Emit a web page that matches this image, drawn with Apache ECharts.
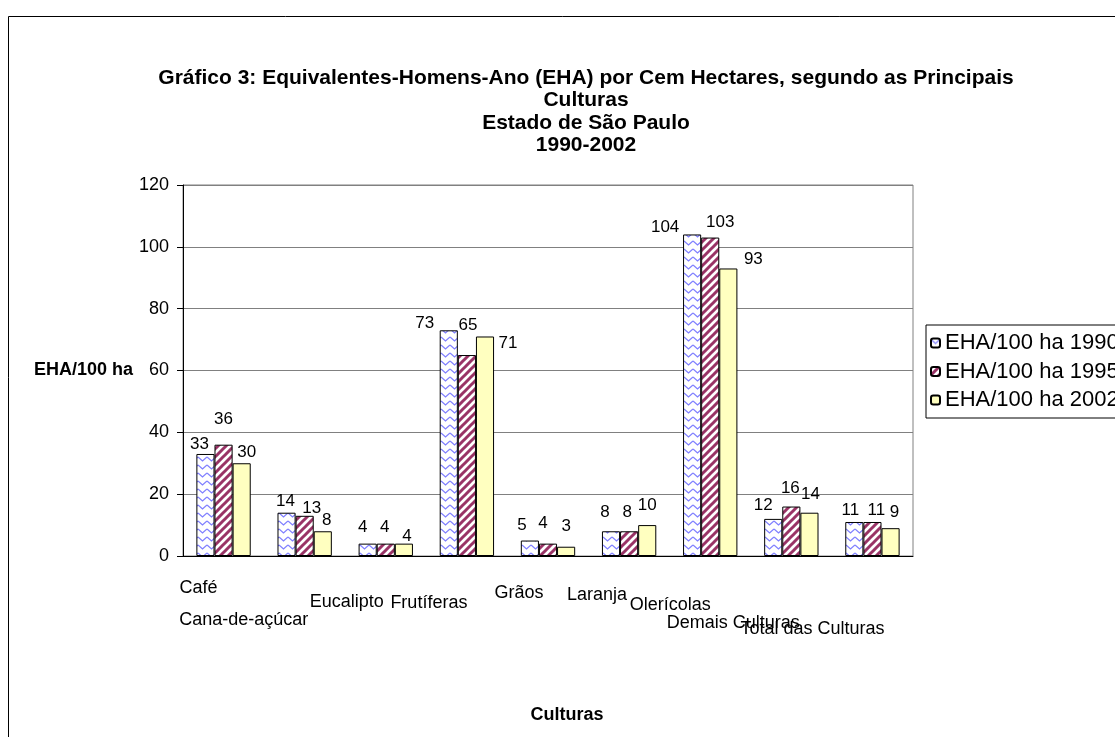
<!DOCTYPE html>
<html>
<head>
<meta charset="utf-8">
<script src="https://cdn.jsdelivr.net/npm/echarts@6/dist/echarts.min.js"></script>
<style>
  html, body { margin: 0; padding: 0; background: #fff; }
  #chart { width: 1115px; height: 737px; }
</style>
</head>
<body>
<div id="chart"></div>
<script>
const categories = ['Café', 'Cana-de-açúcar', 'Eucalipto', 'Frutíferas', 'Grãos', 'Laranja', 'Olerícolas', 'Demais Culturas', 'Total das Culturas']
const seriesNames = ['EHA/100 ha 1990', 'EHA/100 ha 1995', 'EHA/100 ha 2002']
const eha1990 = [33, 14, 4, 73, 5, 8, 104, 12, 11]
const eha1995 = [36, 13, 4, 65, 4, 8, 103, 16, 11]
const eha2002 = [30, 8, 4, 71, 3, 10, 93, 14, 9]
const yTicks = [0, 20, 40, 60, 80, 100, 120]

// the category labels sit staggered under the axis, as in the excel original: [dx, dy]
const labelShift = [[-25, 32], [-61, 64], [-39, 46], [-38, 47], [-29, 37], [-32, 39], [-40, 49], [-58, 67], [-60, 73]]
// value labels are nudged around the bar tops the same way: [dx from bar centre, height above bar top]
const labelNudge = [
  [[-6, 10], [-1, 11], [-5, 16], [-24, 7], [-8, 15], [-6, 19], [-27, 7], [-10, 14], [-4, 12]],
  [[0, 25], [7, 7], [-1, 16], [1, 30], [-5, 20], [-2, 19], [10, 15], [-1, 18], [4, 12]],
  [[5, 11], [4, 11], [3, 7], [23, -7], [0, 20], [0, 20], [25, 9], [1, 18], [4, 16]],
]

const font = '"Liberation Sans", Arial, sans-serif'

function wavePattern() {
  const c = document.createElement('canvas')
  c.width = 9
  c.height = 8
  const g = c.getContext('2d')
  g.fillStyle = '#fff'
  g.fillRect(0, 0, 9, 8)
  g.strokeStyle = '#7f7fff'
  g.lineWidth = 1.3
  g.beginPath()
  g.moveTo(0, 1)
  g.lineTo(4.5, 5)
  g.lineTo(9, 1)
  g.stroke()
  return c
}

function stripePattern() {
  const c = document.createElement('canvas')
  c.width = 8
  c.height = 8
  const g = c.getContext('2d')
  g.fillStyle = '#fff'
  g.fillRect(0, 0, 8, 8)
  g.strokeStyle = '#993366'
  g.lineWidth = 3
  g.beginPath()
  g.moveTo(-2, 10); g.lineTo(10, -2)
  g.moveTo(-2, 2); g.lineTo(2, -2)
  g.moveTo(6, 10); g.lineTo(10, 6)
  g.stroke()
  return c
}

const fills = [
  { image: wavePattern(), repeat: 'repeat' },
  { image: stripePattern(), repeat: 'repeat' },
  '#ffffc0',
]

const rich = {}
labelShift.forEach(([dx, dy], i) => {
  rich['c' + i] = {
    fontSize: 18, lineHeight: 18, color: '#000', fontFamily: font,
    padding: [2 * (dy - 9), dx < 0 ? -2 * dx : 0, 0, dx > 0 ? 2 * dx : 0],
  }
})

const chart = echarts.init(document.getElementById('chart'))

chart.setOption({
  animation: false,
  backgroundColor: '#fff',
  textStyle: { fontFamily: font },
  title: {
    text: 'Gráfico 3: Equivalentes-Homens-Ano (EHA) por Cem Hectares, segundo as Principais\nCulturas\nEstado de São Paulo\n1990-2002',
    left: 586,
    top: 67,
    padding: 0,
    textAlign: 'center',
    textStyle: { fontSize: 21, fontWeight: 'bold', color: '#000', lineHeight: 22.3, fontFamily: font },
  },
  graphic: [
    {
      type: 'rect',
      silent: true,
      shape: { x: 8.5, y: 16.5, width: 1300, height: 900 },
      style: { fill: 'none', stroke: '#000', lineWidth: 1 },
    },
  ],
  legend: {
    orient: 'vertical',
    left: 926,
    top: 325,
    padding: [6, 40, 6, 4],
    itemWidth: 9,
    itemHeight: 9,
    itemGap: 4.5,
    borderColor: '#000',
    borderWidth: 1,
    textStyle: { fontSize: 22, lineHeight: 24, color: '#000', fontFamily: font },
    data: seriesNames,
  },
  grid: {
    left: 183, right: 202, top: 185, bottom: 181,
    containLabel: false, outerBoundsMode: 'none',
    show: true, borderColor: '#808080', borderWidth: 1,
  },
  xAxis: {
    type: 'category',
    data: categories,
    name: 'Culturas',
    nameLocation: 'middle',
    nameGap: 150,
    nameTextStyle: { fontSize: 18, fontWeight: 'bold', color: '#000', padding: [0, 0, 0, 38] },
    axisLine: { lineStyle: { color: '#000' } },
    axisTick: { length: 6, lineStyle: { color: '#000' } },
    axisLabel: { interval: 0, margin: 0, formatter: (v, i) => `{c${i}|${v}}`, rich },
  },
  yAxis: {
    type: 'value',
    min: yTicks[0],
    max: yTicks[yTicks.length - 1],
    interval: yTicks[1] - yTicks[0],
    name: 'EHA/100 ha',
    nameLocation: 'middle',
    nameRotate: 0,
    nameGap: 50,
    nameTextStyle: { fontSize: 18, fontWeight: 'bold', color: '#000' },
    axisLine: { show: true, lineStyle: { color: '#000' } },
    axisTick: { show: true, length: 6, lineStyle: { color: '#000' } },
    axisLabel: { fontSize: 18, color: '#000', margin: 14 },
    splitLine: { lineStyle: { color: '#808080' } },
  },
  series: [eha1990, eha1995, eha2002].map((values, k) => ({
    name: seriesNames[k],
    type: 'bar',
    data: values,
    barGap: '0%',
    barCategoryGap: '33%',
    itemStyle: { color: fills[k], borderColor: '#000', borderWidth: 1 },
    label: {
      show: true,
      position: 'top',
      fontSize: 17,
      color: '#000',
      fontFamily: font,
    },
    labelLayout: (p) => {
      const [dx, up] = labelNudge[k][p.dataIndex]
      return {
        x: p.rect.x + p.rect.width / 2 + dx,
        y: p.rect.y - up,
        align: 'center',
        verticalAlign: 'middle',
      }
    },
  })),
})
</script>
</body>
</html>
